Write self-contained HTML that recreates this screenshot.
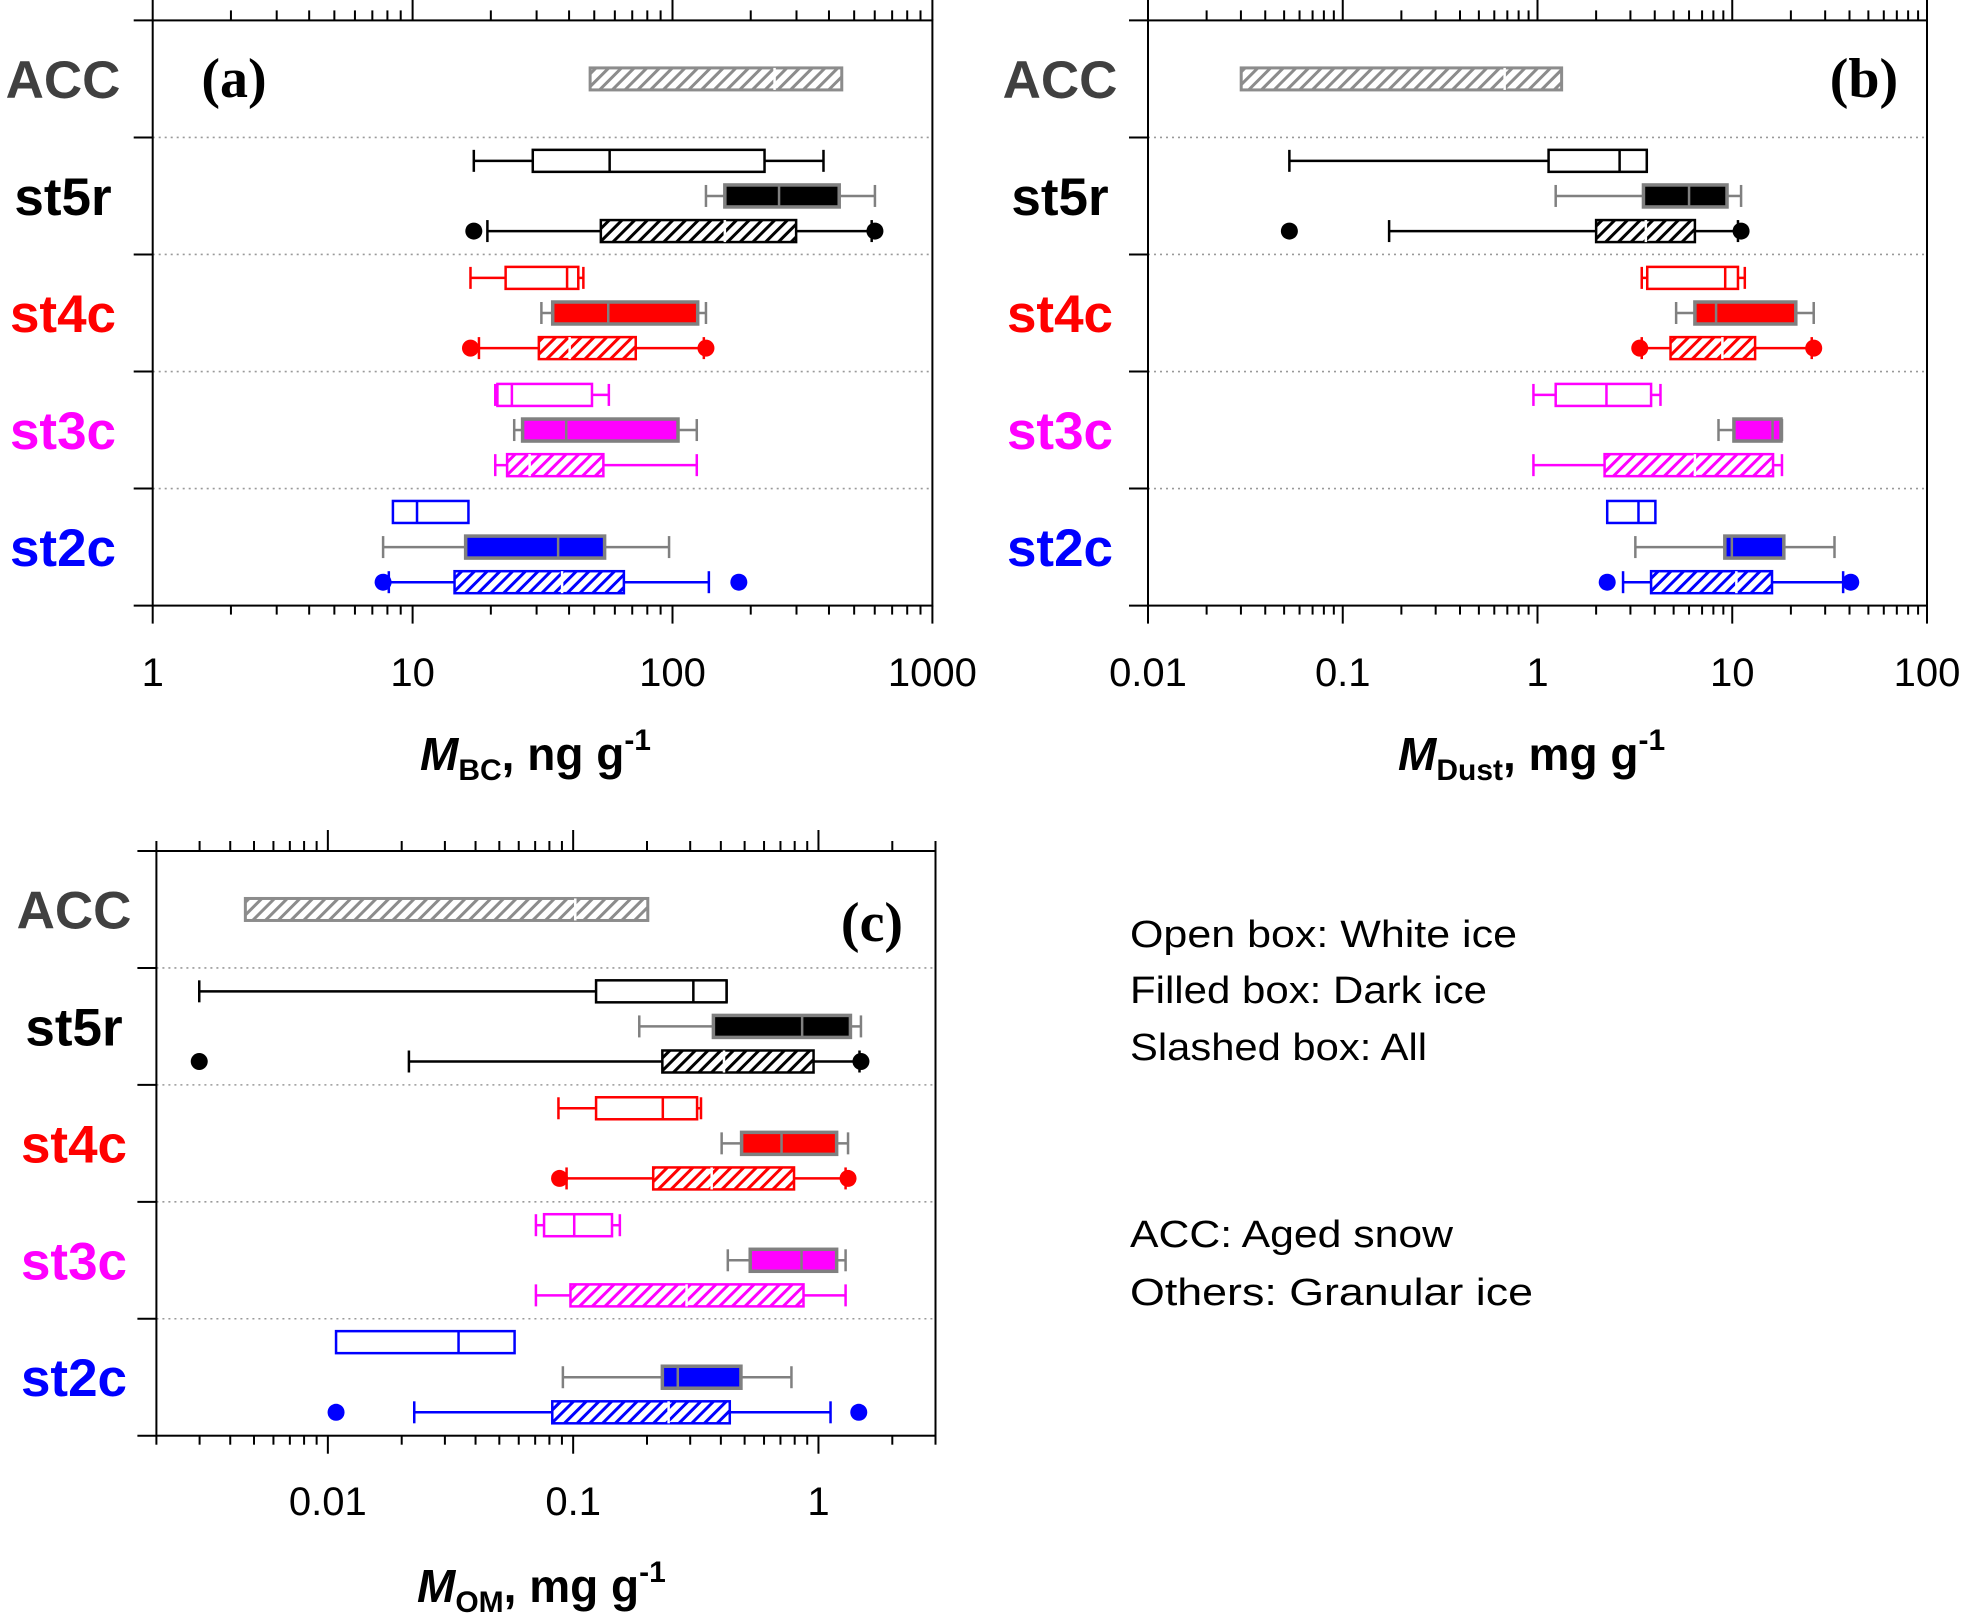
<!DOCTYPE html>
<html><head><meta charset="utf-8"><style>
html,body{margin:0;padding:0;background:#fff;}
svg{display:block;}
</style></head><body>
<svg id="fig" xmlns="http://www.w3.org/2000/svg" width="1962" height="1617" viewBox="0 0 1962 1617">
<defs>
<pattern id="h-black" patternUnits="userSpaceOnUse" width="9" height="9" patternTransform="rotate(45)"><rect width="9" height="9" fill="#fff"/><line x1="0" y1="0" x2="0" y2="9" stroke="#000" stroke-width="6"/></pattern>
<pattern id="h-red" patternUnits="userSpaceOnUse" width="9" height="9" patternTransform="rotate(45)"><rect width="9" height="9" fill="#fff"/><line x1="0" y1="0" x2="0" y2="9" stroke="#ff0000" stroke-width="6"/></pattern>
<pattern id="h-magenta" patternUnits="userSpaceOnUse" width="9" height="9" patternTransform="rotate(45)"><rect width="9" height="9" fill="#fff"/><line x1="0" y1="0" x2="0" y2="9" stroke="#ff00ff" stroke-width="6"/></pattern>
<pattern id="h-blue" patternUnits="userSpaceOnUse" width="9" height="9" patternTransform="rotate(45)"><rect width="9" height="9" fill="#fff"/><line x1="0" y1="0" x2="0" y2="9" stroke="#0000ff" stroke-width="6"/></pattern>
<pattern id="h-gray" patternUnits="userSpaceOnUse" width="9" height="9" patternTransform="rotate(45)"><rect width="9" height="9" fill="#fff"/><line x1="0" y1="0" x2="0" y2="9" stroke="#8c8c8c" stroke-width="6"/></pattern>
</defs>
<g id="legend" font-family="'Liberation Sans', sans-serif" font-size="38" fill="#000">
<text x="1130" y="947" textLength="387" lengthAdjust="spacingAndGlyphs">Open box: White ice</text>
<text x="1130" y="1003" textLength="357" lengthAdjust="spacingAndGlyphs">Filled box: Dark ice</text>
<text x="1130" y="1060" textLength="297" lengthAdjust="spacingAndGlyphs">Slashed box: All</text>
<text x="1130" y="1247" textLength="323" lengthAdjust="spacingAndGlyphs">ACC: Aged snow</text>
<text x="1130" y="1305" textLength="403" lengthAdjust="spacingAndGlyphs">Others: Granular ice</text>
</g>
</svg>
<script>
// Categories (top to bottom)
const categories = ["ACC", "st5r", "st4c", "st3c", "st2c"];
const categoryColors = ["#404040", "#000000", "#ff0000", "#ff00ff", "#0000ff"];
// Each stat: [whiskerLow, q1, median, q3, whiskerHigh]; null whisker = none
// Panel (a) BC, ng/g
const bcAcc = [null, 48.2, 247, 448, null];
const bcWhite = [[17.2, 29, 57.3, 226, 381], [16.7, 22.8, 39.3, 43.4, 45.4], [20.8, 21.2, 24.1, 49, 56.9], [null, 8.4, 10.4, 16.4, null]];
const bcDark = [[134.5, 159, 257, 438, 601], [31.3, 34.6, 56.6, 125, 134.5], [24.6, 26.5, 39, 105, 124], [7.7, 16, 36.3, 54.8, 97]];
const bcAll = [[19.4, 53, 159, 299, 584], [18, 30.6, 40.2, 72.2, 132], [20.8, 23.1, 28.2, 54.2, 124], [8.1, 14.5, 37.6, 65, 138]];
const bcOutliers = [[17.2, 601], [16.7, 134.5], [], [7.7, 180]];
// Panel (b) Dust, mg/g
const dustAcc = [null, 0.0301, 0.678, 1.33, null];
const dustWhite = [[0.0532, 1.14, 2.64, 3.64, 3.64], [3.43, 3.66, 9.2, 10.7, 11.6], [0.953, 1.24, 2.26, 3.83, 4.28], [null, 2.28, 3.3, 4.03, null]];
const dustDark = [[1.24, 3.5, 6.0, 9.4, 11.1], [5.15, 6.43, 8.26, 21.2, 26.2], [8.5, 10.2, 16.1, 17.8, 18], [3.18, 9.16, 9.95, 18.4, 33.5]];
const dustAll = [[0.173, 2.0, 3.6, 6.43, 10.7], [3.43, 4.82, 8.9, 13.1, 25.6], [0.953, 2.21, 6.43, 16.2, 18], [2.75, 3.83, 10.5, 16, 37.1]];
const dustOutliers = [[0.0532, 11.1], [3.35, 26.2], [], [2.28, 40.6]];
// Panel (c) OM, mg/g
const omAcc = [null, 0.00461, 0.102, 0.2015, null];
const omWhite = [[0.00299, 0.124, 0.309, 0.422, 0.422], [0.0871, 0.124, 0.232, 0.32, 0.332], [0.0705, 0.0761, 0.101, 0.144, 0.155], [null, 0.0108, 0.0341, 0.0577, null]];
const omDark = [[0.186, 0.373, 0.858, 1.35, 1.49], [0.403, 0.486, 0.707, 1.186, 1.32], [0.427, 0.527, 0.853, 1.186, 1.29], [0.0908, 0.231, 0.267, 0.483, 0.776]];
const omAll = [[0.0214, 0.231, 0.412, 0.955, 1.47], [0.094, 0.212, 0.367, 0.795, 1.29], [0.0705, 0.0975, 0.29, 0.869, 1.29], [0.0225, 0.0822, 0.245, 0.435, 1.12]];
const omOutliers = [[0.00299, 1.49], [0.088, 1.32], [], [0.0108, 1.46]];
// Tick labels
const bcTicks = ["1", "10", "100", "1000"];
const dustTicks = ["0.01", "0.1", "1", "10", "100"];
const omTicks = ["0.01", "0.1", "1"];

const NS = "http://www.w3.org/2000/svg";
const svg = document.getElementById("fig");
function mk(tag, attrs, parent) {
  const e = document.createElementNS(NS, tag);
  for (const k in attrs) e.setAttribute(k, attrs[k]);
  (parent || svg).appendChild(e);
  return e;
}
const hatchIds = ["h-gray", "h-black", "h-red", "h-magenta", "h-blue"];
const seriesColors = ["#8c8c8c", "#000000", "#ff0000", "#ff00ff", "#0000ff"];

function drawPanel(p) {
  const g = mk("g", {});
  
  
  const lmin = Math.log10(p.dmin), lmax = Math.log10(p.dmax);
  const xs = v => p.left + (Math.log10(v) - lmin) / (lmax - lmin) * (p.right - p.left);
  const catH = (p.bottom - p.top) / categories.length;
  const rowY = (ci, f) => p.top + catH * (ci + f);
  const BH = 22;

  for (let i = 1; i < categories.length; i++) {
    const y = p.top + catH * i;
    const l = mk("line", {x1: p.left, x2: p.right, y1: y, y2: y, stroke: "#999", "stroke-width": 1.6, "stroke-dasharray": "2 4"}, g);
    
    
  }
  const fr = mk("rect", {x: p.left, y: p.top, width: p.right - p.left, height: p.bottom - p.top, fill: "none", stroke: "#000", "stroke-width": 2}, g);
  
  
  for (let i = 0; i <= categories.length; i++) {
    const y = p.top + catH * i;
    const t = mk("line", {x1: p.left - 19, x2: p.left, y1: y, y2: y, stroke: "#000", "stroke-width": 2}, g);
    
    
  }
  const d0 = Math.floor(lmin), d1 = Math.ceil(lmax);
  for (let d = d0; d <= d1; d++) {
    for (let m = 1; m <= 9; m++) {
      const v = m * Math.pow(10, d);
      if (v < p.dmin * 0.999 || v > p.dmax * 1.001) continue;
      const x = xs(v);
      const major = m === 1;
      const tb = mk("line", {x1: x, x2: x, y1: p.bottom, y2: p.bottom + (major ? 18 : 9), stroke: "#000", "stroke-width": 2}, g);
      
      
      const tt = mk("line", {x1: x, x2: x, y1: p.top, y2: p.top - (major ? 21 : 10), stroke: "#000", "stroke-width": 2}, g);
      
      
    }
  }
  p.ticks.forEach(s => {
    const t = mk("text", {x: xs(parseFloat(s)), y: p.tickY, "text-anchor": "middle", "font-family": "'Liberation Sans', sans-serif", "font-size": 40, fill: "#000"}, g);
    t.textContent = s;
    
    
  });
  const at = mk("text", {x: p.titleX, y: p.titleY, "font-family": "'Liberation Sans', sans-serif", "font-size": 46, "font-weight": "bold", fill: "#000"}, g);
  
  
  const s1 = mk("tspan", {"font-style": "italic"}, at); s1.textContent = "M";
  const s2 = mk("tspan", {"font-size": 30, dy: 10}, at); s2.textContent = p.sub;
  const s3 = mk("tspan", {dy: -10}, at); s3.textContent = ", " + p.unit + " g";
  const s4 = mk("tspan", {"font-size": 30, dy: -20}, at); s4.textContent = "-1";
  const pl = mk("text", {x: p.letterX, y: p.letterY, "text-anchor": "middle", "font-family": "'Liberation Serif', serif", "font-size": 56, "font-weight": "bold", fill: "#000"}, g);
  pl.textContent = p.letter;
  
  
  categories.forEach((c, i) => {
    const t = mk("text", {x: p.catX, y: rowY(i, 0.5) + 19, "text-anchor": "middle", "font-family": "'Liberation Sans', sans-serif", "font-size": 53, "font-weight": "bold", fill: categoryColors[i]}, g);
    t.textContent = c;
    
    
  });

  function box(st, y, stroke, fill, medColor, sw, name) {
    const bg = mk("g", {}, g);
    
    
    const [wl, q1, md, q3, wh] = st;
    if (wl !== null) {
      mk("line", {x1: xs(wl), x2: xs(q1), y1: y, y2: y, stroke: stroke, "stroke-width": 2.5}, bg);
      mk("line", {x1: xs(wl), x2: xs(wl), y1: y - BH / 2, y2: y + BH / 2, stroke: stroke, "stroke-width": 2.5}, bg);
    }
    if (wh !== null) {
      mk("line", {x1: xs(q3), x2: xs(wh), y1: y, y2: y, stroke: stroke, "stroke-width": 2.5}, bg);
      mk("line", {x1: xs(wh), x2: xs(wh), y1: y - BH / 2, y2: y + BH / 2, stroke: stroke, "stroke-width": 2.5}, bg);
    }
    mk("rect", {x: xs(q1), y: y - BH / 2, width: xs(q3) - xs(q1), height: BH, fill: fill, stroke: stroke, "stroke-width": sw}, bg);
    mk("line", {x1: xs(md), x2: xs(md), y1: y - BH / 2, y2: y + BH / 2, stroke: medColor, "stroke-width": 2.5}, bg);
  }
  box(p.acc, rowY(0, 0.5), "#8c8c8c", "url(#h-gray)", "#fff", 3, "acc-box");
  for (let i = 0; i < 4; i++) {
    const ci = i + 1, col = seriesColors[ci], nm = categories[ci];
    box(p.white[i], rowY(ci, 0.2), col, "#fff", col, 2.5, nm + "-white-ice-box");
    box(p.dark[i], rowY(ci, 0.5), "#808080", col, "#808080", 3.5, nm + "-dark-ice-box");
    box(p.all[i], rowY(ci, 0.8), col, "url(#" + hatchIds[ci] + ")", "#fff", 2.5, nm + "-all-box");
    p.outliers[i].forEach(v => {
      const c = mk("circle", {cx: xs(v), cy: rowY(ci, 0.8), r: 8.5, fill: col}, g);
      
      
    });
  }
}

drawPanel({name: "panel-a-bc", left: 152.7, right: 932.4, top: 20.4, bottom: 605.6, dmin: 1, dmax: 1000,
  ticks: bcTicks, tickY: 686, titleX: 420, titleY: 770, sub: "BC", unit: "ng", letter: "(a)", letterX: 234, letterY: 97, catX: 63,
  acc: bcAcc, white: bcWhite, dark: bcDark, all: bcAll, outliers: bcOutliers});
drawPanel({name: "panel-b-dust", left: 1148, right: 1927, top: 20.4, bottom: 605.6, dmin: 0.01, dmax: 100,
  ticks: dustTicks, tickY: 686, titleX: 1398, titleY: 770, sub: "Dust", unit: "mg", letter: "(b)", letterX: 1864, letterY: 97, catX: 1060,
  acc: dustAcc, white: dustWhite, dark: dustDark, all: dustAll, outliers: dustOutliers});
drawPanel({name: "panel-c-om", left: 156.4, right: 935.5, top: 851, bottom: 1435.7, dmin: 0.002, dmax: 3,
  ticks: omTicks, tickY: 1515, titleX: 417, titleY: 1602, sub: "OM", unit: "mg", letter: "(c)", letterX: 872, letterY: 941, catX: 74,
  acc: omAcc, white: omWhite, dark: omDark, all: omAll, outliers: omOutliers});
</script>
</body></html>
